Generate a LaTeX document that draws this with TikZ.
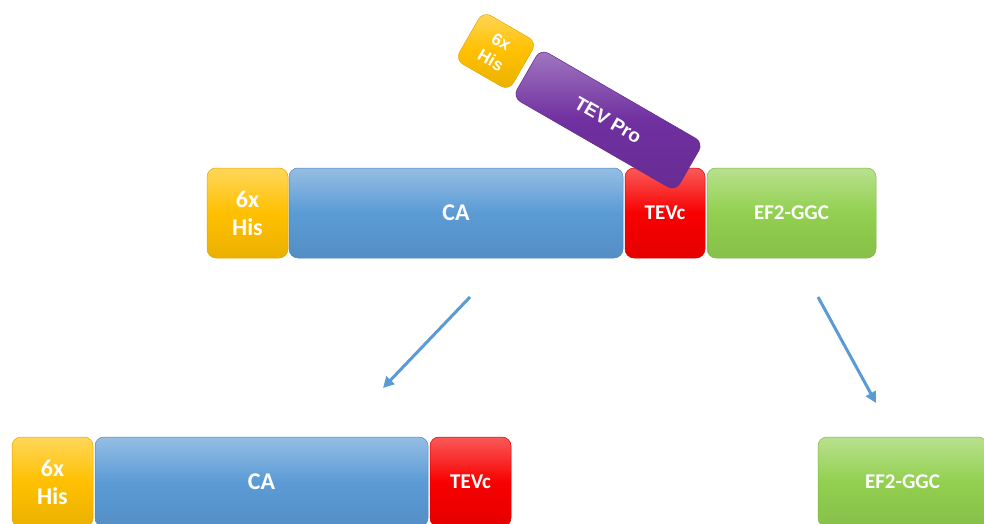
\documentclass[tikz,border=0pt]{standalone}
\usepackage{fontspec}
\newfontfamily\calfont{Carlito}
\newfontfamily\arfont{Liberation Sans}
\usetikzlibrary{arrows.meta}
\definecolor{hisY}{HTML}{FFC000}
\definecolor{caB}{HTML}{5B9BD5}
\definecolor{tevR}{HTML}{F80000}
\definecolor{efG}{HTML}{92D050}
\definecolor{proP}{HTML}{7030A0}
\tikzset{
  blk/.style={rounded corners=9pt, inner sep=0pt, text=white, align=center,
    draw=#1!88!black, line width=0.5pt,
    top color=#1!65!white, bottom color=#1!92!black, middle color=#1,
    font=\calfont\bfseries\fontsize{24}{28}\selectfont},
  small/.style={font=\calfont\bfseries\fontsize{21}{25}\selectfont},
  rot/.style={rotate=-30, font=\arfont\bfseries\fontsize{19}{20}\selectfont},
  arr/.style={draw=caB, line width=3pt, -{Triangle[length=11pt,width=11pt]}},
}
\begin{document}
\begin{tikzpicture}[x=1pt,y=-1pt]
\clip (0,0) rectangle (984,524);
\fill[white] (0,0) rectangle (984,524);
% top row
\node[blk=hisY, minimum width=81pt, minimum height=90pt] (his) at (247.5,213) {6x\\His};
\node[blk=caB, minimum width=334pt, minimum height=90pt] (ca) at (456,213) {CA};
\node[blk=tevR, small, minimum width=80pt, minimum height=90pt] (tevc) at (665,213) {TEVc};
\node[blk=efG, small, minimum width=169pt, minimum height=90pt] (ef) at (791.5,213) {EF2-GGC};
% rotated protease
\node[blk=proP, rot, minimum width=188pt, minimum height=56pt] (pro) at (608,120) {TEV Pro};
\node[blk=hisY, rot, font=\arfont\bfseries\fontsize{17}{21}\selectfont, minimum width=62pt, minimum height=56pt] (hisp) at (496,51) {6x\\His};
% bottom row
\node[blk=hisY, minimum width=81pt, minimum height=90pt] (his2) at (52.5,482) {6x\\His};
\node[blk=caB, minimum width=333pt, minimum height=90pt] (ca2) at (261.5,482) {CA};
\node[blk=tevR, small, minimum width=81pt, minimum height=90pt] (tevc2) at (470.5,482) {TEVc};
\node[blk=efG, small, minimum width=169pt, minimum height=90pt] (ef2) at (902.5,482) {EF2-GGC};
% arrows
\coordinate (a1s) at (470,297);
\coordinate (a1e) at (383,388);
\coordinate (a2s) at (818,297);
\coordinate (a2e) at (876,403);
\draw[arr] (a1s) -- (a1e);
\draw[arr] (a2s) -- (a2e);
\end{tikzpicture}
\end{document}
